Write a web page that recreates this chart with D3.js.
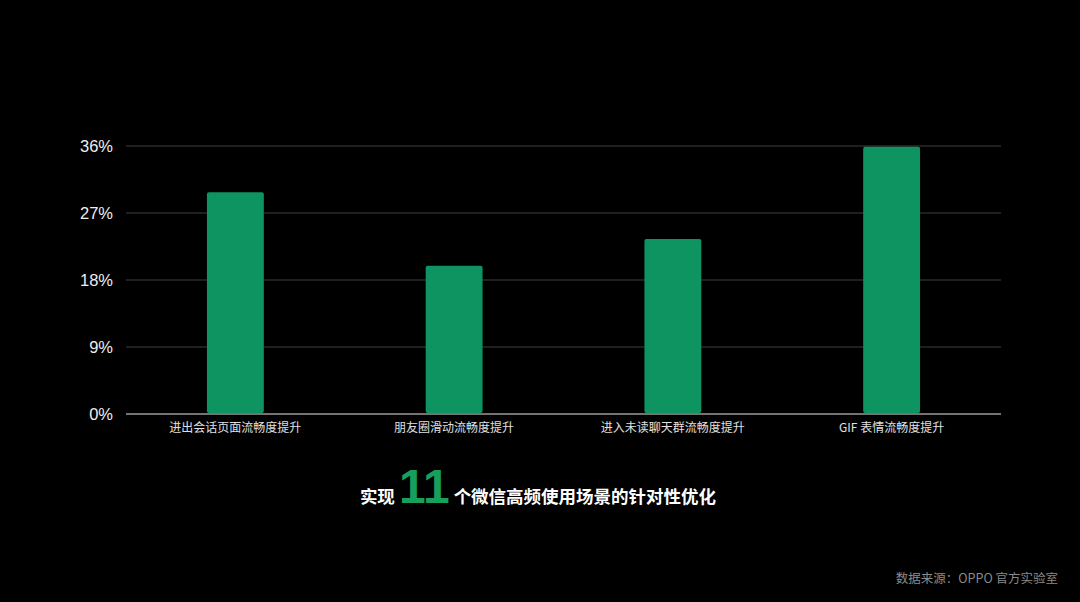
<!DOCTYPE html>
<html><head><meta charset="utf-8">
<script src="https://cdn.jsdelivr.net/npm/d3@7"></script>
<style>html,body{margin:0;padding:0;background:#000;}svg{display:block;}</style>
</head><body>
<svg id="c" width="1080" height="602"></svg>
<script>
const categories = ["进出会话页面流畅度提升","朋友圈滑动流畅度提升","进入未读聊天群流畅度提升","GIF 表情流畅度提升"];
const values = [29.8, 19.9, 23.5, 35.9];
const yTicks = [0, 9, 18, 27, 36];
const tickLabels = ["0%","9%","18%","27%","36%"];
const titleParts = ["实现", "11", "个微信高频使用场景的针对性优化"];
const sourceText = "数据来源：OPPO 官方实验室";

(function(){
const svg = d3.select("#c");
svg.append("rect").attr("width",1080).attr("height",602).attr("fill","#000");
const cjk = "'Noto Sans CJK SC','Noto Sans',sans-serif";
const pLeft = 126, pRight = 1001, pTop = 146, pBottom = 414;
const x = d3.scaleBand().domain(categories).range([pLeft,pRight]).paddingInner(0.74).paddingOuter(0.37);
const y = d3.scaleLinear().domain([0,36]).range([pBottom,pTop]);

// gridlines
svg.append("g").selectAll("line").data(yTicks).join("line")
  .attr("x1",pLeft).attr("x2",pRight)
  .attr("y1",d=>y(d)).attr("y2",d=>y(d))
  .attr("stroke",d=>d===0?"#9a9a9a":"#3e3e3e").attr("stroke-width",d=>d===0?1.5:1.2);

// y tick labels
svg.append("g").selectAll("text").data(yTicks).join("text")
  .attr("x",113).attr("y",d=>y(d)).attr("dy","0.36em")
  .attr("text-anchor","end").attr("fill","#eeeeee")
  .style("font-family","'Liberation Sans',Arial,sans-serif").style("font-size","16.5px")
  .text((d,i)=>tickLabels[i]);

// bars
svg.append("g").selectAll("rect").data(values).join("rect")
  .attr("x",(d,i)=>x(categories[i])).attr("width",x.bandwidth())
  .attr("y",d=>y(d)).attr("height",d=>pBottom-1-y(d))
  .attr("rx",2).attr("fill","#0e9461");

// category labels
svg.append("g").selectAll("text").data(categories).join("text")
  .attr("x",d=>x(d)+x.bandwidth()/2).attr("y",432)
  .attr("text-anchor","middle").attr("fill","#e0e0e0")
  .style("font-family",cjk).style("font-size","12px")
  .text(d=>d);

// title
const t = svg.append("text").attr("x",538).attr("y",503).attr("text-anchor","middle")
  .style("font-family",cjk).style("font-weight","bold");
t.append("tspan").attr("fill","#ffffff").style("font-size","17.5px").text(titleParts[0]);
t.append("tspan").attr("fill","#17a05c").style("font-size","48px").style("font-family","'Liberation Sans',Arial,sans-serif").attr("dx",4).text(titleParts[1]);
t.append("tspan").attr("fill","#ffffff").style("font-size","17.5px").attr("dx",4).text(titleParts[2]);

// source
svg.append("text").attr("x",1058).attr("y",583).attr("text-anchor","end")
  .attr("fill","#8a8a8a").style("font-family",cjk).style("font-size","12.5px")
  .text(sourceText);
})();
</script>
</body></html>
